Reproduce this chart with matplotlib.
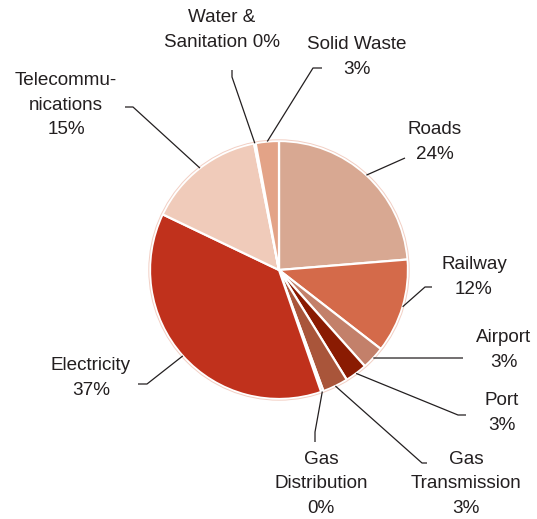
import numpy as np
import matplotlib.pyplot as plt

# Share of infrastructure investment by sector (percent)
sectors = ['Roads', 'Railway', 'Airport', 'Port', 'Gas\nTransmission',
           'Gas\nDistribution', 'Electricity', 'Telecommu-\nnications',
           'Water &\nSanitation', 'Solid Waste']
shares = [23.7, 11.8, 2.9, 2.8, 3.2, 0.3, 37.4, 14.8, 0.2, 2.9]
colors = ['#D8A892', '#D46A4A', '#C3806A', '#8A1B02', '#A9553A',
          '#B8482C', '#C0311C', '#F0CBBA', '#E8B8A2', '#E3A387']

W, H = 537, 519
CX, CY, R = 279, 270, 129
TEXT = '#231F20'

# label layout in pixel coords (y measured from top):
# text centre, elbow of the leader, end of the short tail next to the text
label_pos = [(435, 142), (474, 277), (504, 350), (502, 413), (466, 484),
             (321, 484), (91, 378), (66, 105), (222, 30), (357, 57)]
elbows = [(405, 158), (425, 287), (463, 358), (458, 415), (422, 463),
          (315, 432), (147, 384), (133, 107), (232, 77), (313, 68)]
tails = [(405, 158), (432, 287), (463, 358), (466, 415), (427, 463),
         (315, 442), (138, 384), (125, 107), (232, 70), (322, 68)]
pct_sep = ['\n', '\n', '\n', '\n', '\n', '\n', '\n', '\n', ' ', '\n']

plt.rcParams['font.family'] = ['Liberation Sans', 'DejaVu Sans']

fig = plt.figure(figsize=(W / 100, H / 100), dpi=100)
ax = fig.add_axes([0, 0, 1, 1])

wedges, _ = ax.pie(shares, colors=colors, startangle=90, counterclock=False,
                   center=(CX, H - CY), radius=R,
                   wedgeprops=dict(edgecolor='white', linewidth=1.6))

# faint rim around the pie
ax.add_patch(plt.Circle((CX, H - CY), R + 1.2, fill=False,
                        edgecolor='#F2CFC4', linewidth=0.7))

for w, name, share, (tx, ty), (ex, ey), (sx, sy), sep in zip(
        wedges, sectors, shares, label_pos, elbows, tails, pct_sep):
    mid = np.deg2rad((w.theta1 + w.theta2) / 2)
    rx = CX + R * np.cos(mid)
    ry = (H - CY) + R * np.sin(mid)
    ax.plot([rx, ex, sx], [ry, H - ey, H - sy], color=TEXT, lw=0.9,
            solid_capstyle='butt')
    ax.text(tx, H - ty, f'{name}{sep}{share:.0f}%', ha='center', va='center',
            fontsize=13.6, color=TEXT, linespacing=1.55)

ax.set_xlim(0, W)
ax.set_ylim(0, H)
ax.set_aspect('equal')
ax.axis('off')

fig.savefig('out.png', dpi=100)
